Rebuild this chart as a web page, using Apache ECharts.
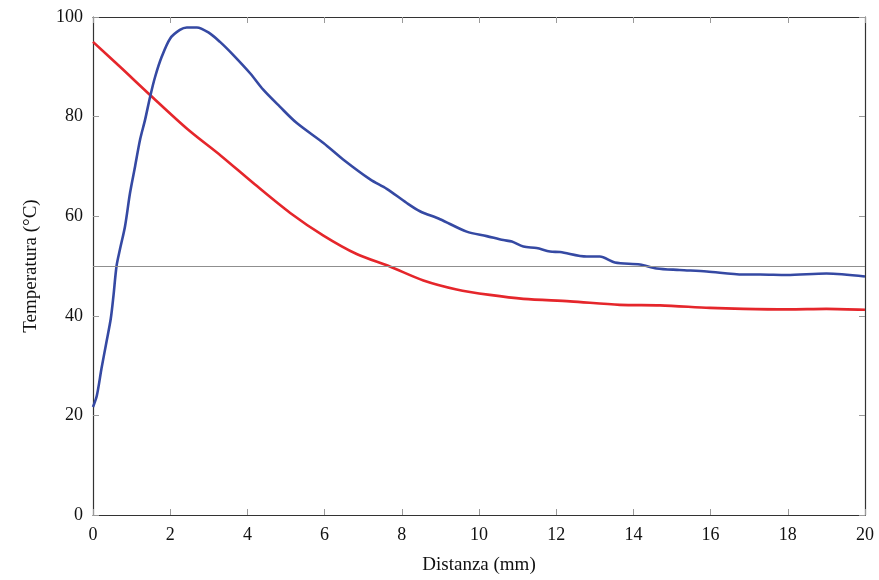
<!DOCTYPE html>
<html>
<head>
<meta charset="utf-8">
<script src="https://cdn.jsdelivr.net/npm/echarts@6/dist/echarts.min.js"></script>
<style>html,body{margin:0;padding:0;background:#fff;overflow:hidden}#c{width:879px;height:580px}</style>
</head>
<body>
<div id="c"></div>
<script>
const xTicks = [0, 2, 4, 6, 8, 10, 12, 14, 16, 18, 20];
const yTicks = [0, 20, 40, 60, 80, 100];
const refLine = 50;

const blueX = [0, 0.1, 0.22, 0.35, 0.46, 0.53, 0.61, 0.7, 0.83, 0.96, 1.09, 1.22, 1.35, 1.48, 1.61, 1.78, 2.0, 2.25, 2.43, 2.69, 2.99, 3.29, 3.63, 4.07, 4.41, 4.84, 5.28, 5.97, 6.48, 7.18, 7.61, 8.12, 8.47, 8.99, 9.68, 10.2, 10.63, 10.85, 11.15, 11.49, 11.84, 12.1, 12.79, 13.13, 13.52, 14.17, 14.6, 15.2, 15.9, 16.85, 17.28, 17.97, 19.0, 20.0];
const blueY = [21.7, 24, 29.4, 34.8, 39.4, 44, 50, 53.4, 58, 64.7, 70, 75.4, 79.4, 84, 88, 92, 95.7, 97.4, 97.9, 97.9, 96.9, 95, 92.4, 88.7, 85.4, 82, 78.7, 74.7, 71.4, 67.4, 65.5, 62.7, 61, 59.4, 56.9, 56, 55.2, 54.9, 53.9, 53.6, 52.9, 52.8, 51.9, 51.9, 50.7, 50.3, 49.5, 49.2, 48.9, 48.3, 48.3, 48.2, 48.5, 47.9];

const redX = [0, 0.7, 1.47, 2.46, 3.32, 4.19, 5.1, 5.97, 6.83, 7.69, 8.56, 9.42, 10.28, 11.15, 12.36, 13.65, 14.69, 15.98, 16.85, 18.0, 19.0, 20.0];
const redY = [95, 90, 84.4, 77.4, 72.1, 66.4, 60.7, 56.1, 52.4, 49.9, 47.1, 45.3, 44.2, 43.4, 42.9, 42.2, 42.1, 41.6, 41.4, 41.3, 41.4, 41.2];

const zip = (xs, ys) => xs.map((x, i) => [x, ys[i]]);
const font = '"Liberation Serif", "DejaVu Serif", serif';

const tickStyle = {show: true, inside: true, length: 6, lineStyle: {color: '#9a9a9a', width: 1}};
const lineStyleAxis = {show: true, onZero: false, lineStyle: {color: '#333', width: 1.2}};

const chart = echarts.init(document.getElementById('c'), null, {renderer: 'canvas'});
chart.setOption({
  animation: false,
  backgroundColor: '#fff',
  grid: {left: 93, right: 14, top: 17, bottom: 58, containLabel: false},
  xAxis: [{
    type: 'value', min: xTicks[0], max: xTicks[xTicks.length - 1], interval: 2,
    position: 'bottom',
    name: 'Distanza (mm)', nameLocation: 'middle', nameGap: 41,
    nameTextStyle: {fontFamily: font, fontSize: 19, color: '#111'},
    axisLine: lineStyleAxis, axisTick: tickStyle,
    axisLabel: {fontFamily: font, fontSize: 18, color: '#111', margin: 11},
    splitLine: {show: false}
  }, {
    type: 'value', min: xTicks[0], max: xTicks[xTicks.length - 1], interval: 2,
    position: 'top',
    axisLine: lineStyleAxis, axisTick: tickStyle,
    axisLabel: {show: false}, splitLine: {show: false}
  }],
  yAxis: [{
    type: 'value', min: yTicks[0], max: yTicks[yTicks.length - 1], interval: 20,
    position: 'left',
    name: 'Temperatura (°C)', nameLocation: 'middle', nameGap: 52,
    nameTextStyle: {fontFamily: font, fontSize: 19, color: '#111'},
    axisLine: lineStyleAxis, axisTick: tickStyle,
    axisLabel: {fontFamily: font, fontSize: 18, color: '#111', margin: 10},
    splitLine: {show: false}
  }, {
    type: 'value', min: yTicks[0], max: yTicks[yTicks.length - 1], interval: 20,
    position: 'right',
    axisLine: lineStyleAxis, axisTick: tickStyle,
    axisLabel: {show: false}, splitLine: {show: false}
  }],
  series: [{
    type: 'line', name: 'red', data: zip(redX, redY), showSymbol: false, smooth: 0.3,
    lineStyle: {color: '#e5262b', width: 2.6}, itemStyle: {color: '#e5262b'}, z: 3,
    markLine: {
      silent: true, symbol: 'none', label: {show: false},
      lineStyle: {color: '#8f8f8f', width: 1, type: 'solid'},
      data: [{yAxis: refLine}]
    }
  }, {
    type: 'line', name: 'blue', data: zip(blueX, blueY), showSymbol: false, smooth: 0.3,
    lineStyle: {color: '#3549a3', width: 2.6}, itemStyle: {color: '#3549a3'}, z: 4
  }]
});
</script>
</body>
</html>
